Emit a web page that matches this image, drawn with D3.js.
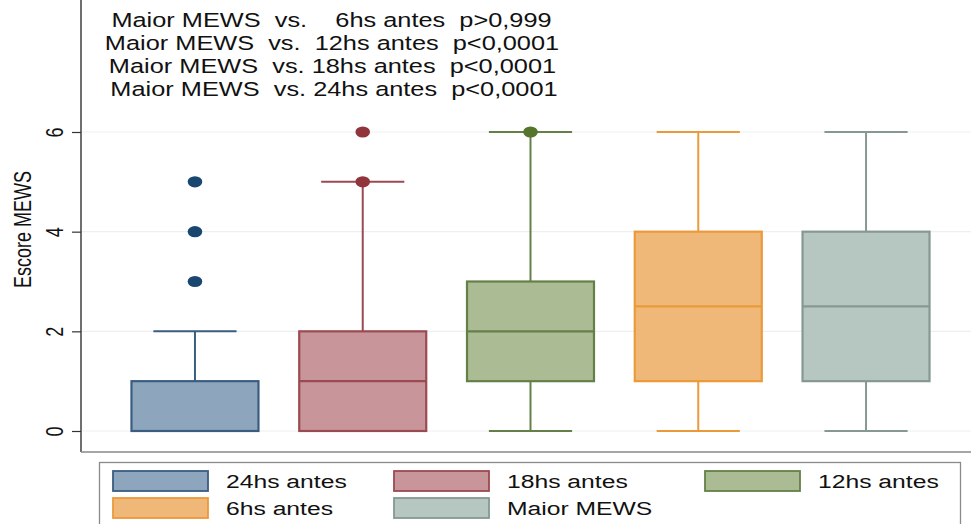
<!DOCTYPE html>
<html>
<head>
<meta charset="utf-8">
<script src="https://cdn.jsdelivr.net/npm/d3@7"></script>
<style>
  html, body { margin: 0; padding: 0; background: #fff; }
  svg { display: block; font-family: "Liberation Sans", Arial, Helvetica, sans-serif; }
</style>
</head>
<body>
<svg id="chart" width="971" height="524"></svg>
<script>
// ---- DATA ----
const categories = ["24hs antes", "18hs antes", "12hs antes", "6hs antes", "Maior MEWS"];
const q1 = [0, 0, 1, 1, 1];
const medians = [0, 1, 2, 2.5, 2.5];
const q3 = [1, 2, 3, 4, 4];
const whiskerLow = [0, 0, 0, 0, 0];
const whiskerHigh = [2, 5, 6, 6, 6];
const outliers = [[3, 4, 5], [5, 6], [6], [], []];
const yTicks = [0, 2, 4, 6];
const yLabel = "Escore MEWS";
const annotations = [
  "Maior MEWS  vs.    6hs antes  p>0,999",
  "Maior MEWS  vs.  12hs antes  p<0,0001",
  "Maior MEWS  vs. 18hs antes  p<0,0001",
  "Maior MEWS  vs. 24hs antes  p<0,0001"
];
const legendOrder = ["24hs antes", "18hs antes", "12hs antes", "6hs antes", "Maior MEWS"];

// ---- STYLE ----
const fills   = ["#8ea6bd", "#c8959b", "#abbb93", "#f0b878", "#b6c7c2"];
const strokes = ["#3a5d80", "#9b4a52", "#648048", "#eb9a3a", "#869891"];
const dotCols = ["#1a476f", "#90353b", "#55752f", "#e37e00", "#6e8e84"];
const SX = 1.3; // horizontal glyph stretch seen in the reference

const svg = d3.select("#chart");
const axisX = 81, plotBottom = 452, plotRight = 971;

const y = d3.scaleLinear().domain([0, 6]).range([431, 132]);
const x = d3.scaleBand().domain(categories).range([111, 950])
  .paddingInner(0.243).paddingOuter(0.122);

// gridlines
svg.append("g").selectAll("line").data(yTicks).join("line")
  .attr("x1", axisX).attr("x2", plotRight)
  .attr("y1", d => y(d)).attr("y2", d => y(d))
  .attr("stroke", "#edf0f1").attr("stroke-width", 1.2);

// y axis
const yAxis = d3.axisLeft(y).tickValues(yTicks).tickSize(9).tickPadding(6).tickFormat(d3.format("d"));
const gy = svg.append("g").attr("transform", `translate(${axisX},0)`).call(yAxis);
gy.select(".domain").remove();
gy.selectAll(".tick line").attr("stroke", "#333").attr("stroke-width", 1.2);
gy.selectAll(".tick text")
  .attr("font-size", 18).attr("fill", "#111")
  .attr("text-anchor", "middle")
  .attr("x", 0).attr("y", 0).attr("dy", "0.35em")
  .attr("transform", `translate(-26,0) scale(${SX},1) rotate(-90)`);

// axis lines
svg.append("line").attr("x1", axisX).attr("x2", axisX).attr("y1", 0).attr("y2", plotBottom)
  .attr("stroke", "#333").attr("stroke-width", 1.4);
svg.append("line").attr("x1", axisX).attr("x2", plotRight).attr("y1", plotBottom).attr("y2", plotBottom)
  .attr("stroke", "#888").attr("stroke-width", 1.4);

// y label
svg.append("text").attr("transform", `translate(22.5,${(y(0)+y(6))/2 - 52}) scale(${SX},1) rotate(-90)`)
  .attr("text-anchor", "middle").attr("font-size", 18).attr("fill", "#111")
  .attr("dy", "0.35em").text(yLabel);

// boxes
const bw = x.bandwidth();
const capW = bw * 0.655;
const g = svg.append("g");
categories.forEach((c, i) => {
  const cx = x(c) + bw / 2;
  const gg = g.append("g");
  gg.append("line").attr("x1", cx).attr("x2", cx).attr("y1", y(q3[i])).attr("y2", y(whiskerHigh[i]))
    .attr("stroke", strokes[i]).attr("stroke-width", 2);
  gg.append("line").attr("x1", cx).attr("x2", cx).attr("y1", y(q1[i])).attr("y2", y(whiskerLow[i]))
    .attr("stroke", strokes[i]).attr("stroke-width", 2);
  gg.append("line").attr("x1", cx - capW/2).attr("x2", cx + capW/2).attr("y1", y(whiskerHigh[i])).attr("y2", y(whiskerHigh[i]))
    .attr("stroke", strokes[i]).attr("stroke-width", 2);
  gg.append("line").attr("x1", cx - capW/2).attr("x2", cx + capW/2).attr("y1", y(whiskerLow[i])).attr("y2", y(whiskerLow[i]))
    .attr("stroke", strokes[i]).attr("stroke-width", 2);
  gg.append("rect").attr("x", x(c)).attr("width", bw)
    .attr("y", y(q3[i])).attr("height", y(q1[i]) - y(q3[i]))
    .attr("fill", fills[i]).attr("stroke", strokes[i]).attr("stroke-width", 2.2);
  gg.append("line").attr("x1", x(c)).attr("x2", x(c) + bw).attr("y1", y(medians[i])).attr("y2", y(medians[i]))
    .attr("stroke", strokes[i]).attr("stroke-width", 2.2);
  gg.selectAll("ellipse").data(outliers[i]).join("ellipse")
    .attr("cx", cx).attr("cy", d => y(d)).attr("rx", 7.3).attr("ry", 5.6)
    .attr("fill", dotCols[i]);
});

// annotations
const ann = svg.append("g").attr("font-size", 19.5).attr("fill", "#111");
const annY = [27, 50, 73, 96];
const annX = [331.5, 332, 332.5, 334];
annotations.forEach((t, i) => {
  ann.append("text").attr("transform", `translate(${annX[i]},${annY[i]}) scale(${SX},1)`)
    .attr("text-anchor", "middle")
    .style("white-space", "pre").attr("xml:space", "preserve").text(t);
});

// legend
const lg = svg.append("g");
lg.append("rect").attr("x", 99.5).attr("y", 462.5).attr("width", 861).attr("height", 70)
  .attr("fill", "#fff").attr("stroke", "#8a8a8a").attr("stroke-width", 1.3);
const colX = [113, 394, 705];
legendOrder.forEach((c, k) => {
  const i = categories.indexOf(c);
  const col = k % 3, row = Math.floor(k / 3);
  const sx = colX[col], sy = 471 + row * 27;
  lg.append("rect").attr("x", sx).attr("y", sy).attr("width", 95).attr("height", 20)
    .attr("fill", fills[i]).attr("stroke", strokes[i]).attr("stroke-width", 1.8);
  lg.append("text").attr("transform", `translate(${sx + 113},${sy + 10}) scale(${SX},1)`)
    .attr("dy", "0.35em")
    .attr("font-size", 19).attr("fill", "#111").text(c);
});
</script>
</body>
</html>
